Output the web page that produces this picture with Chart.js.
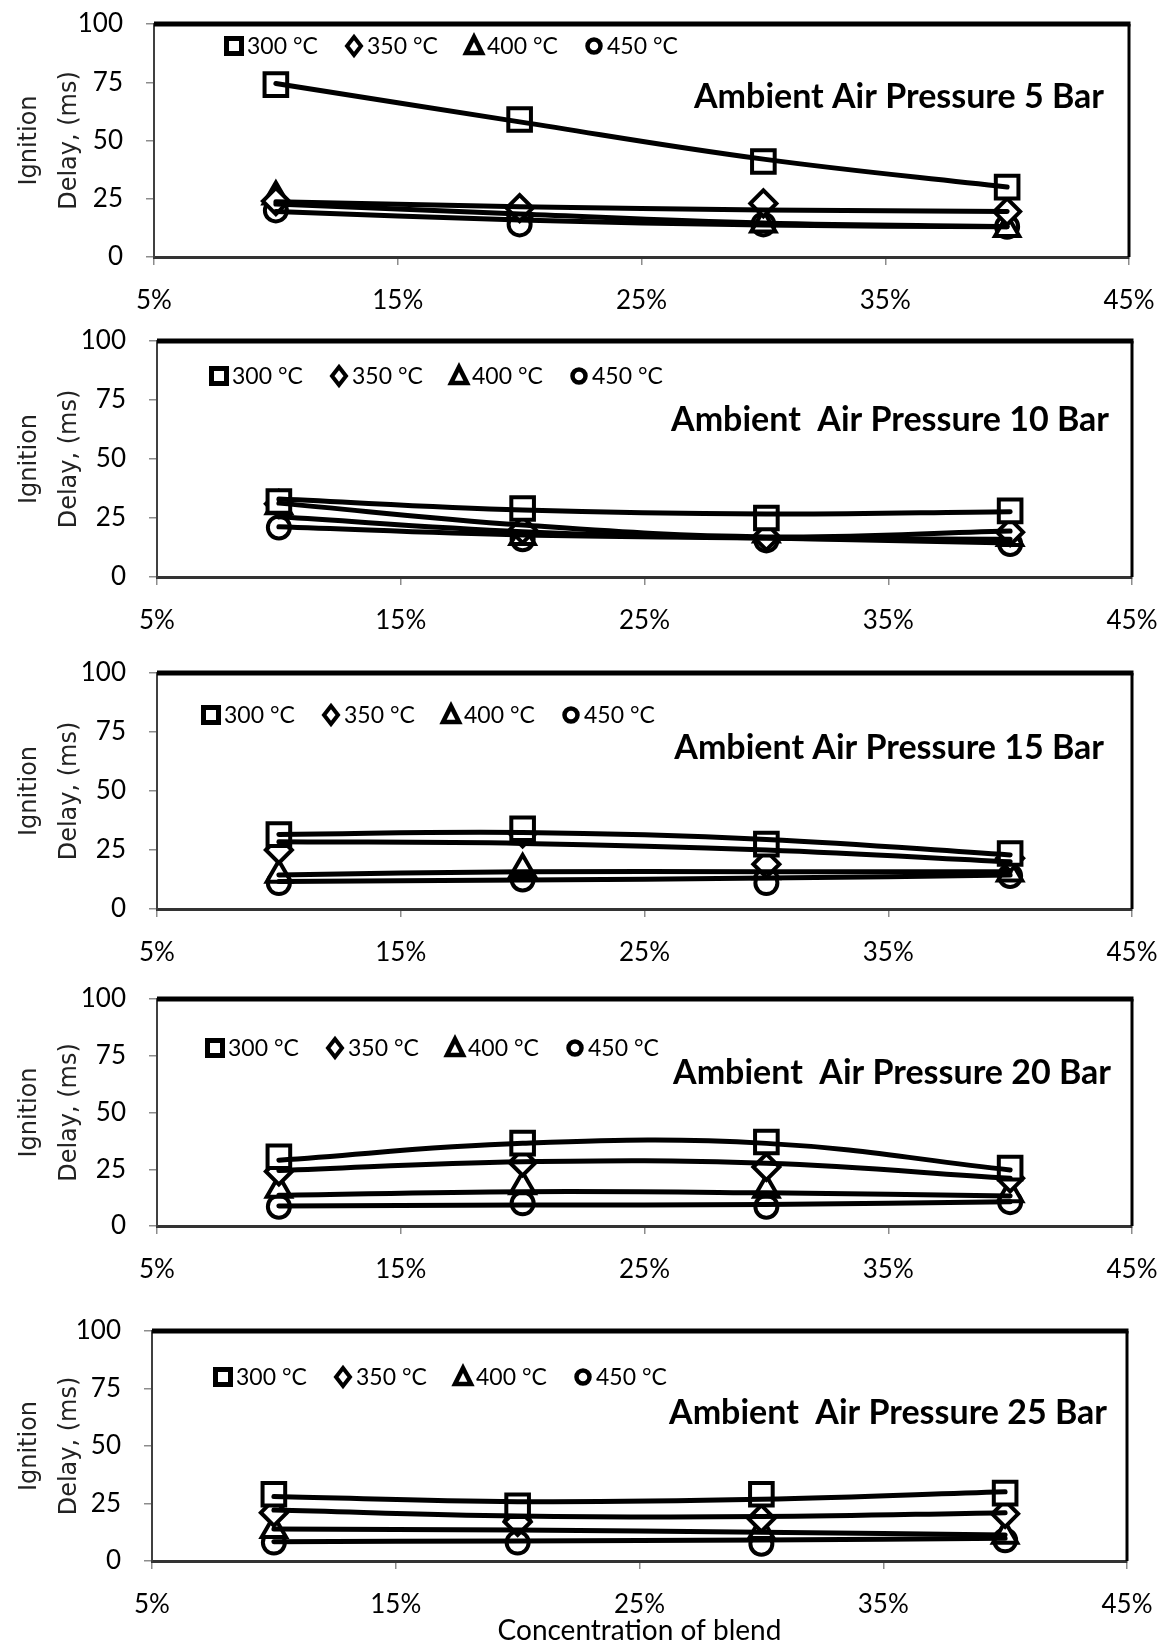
<!DOCTYPE html>
<html lang="en">
<head>
<meta charset="UTF-8">
<title>Ignition Delay vs Blend</title>
<script src="https://cdn.jsdelivr.net/npm/chart.js"></script>
<style>
  body{margin:0; background:#fff;}
  #wrap{position:relative; width:1163px; height:1648px;}
  .panel{position:absolute; left:0; width:1163px;}
</style>
</head>
<body>
<div id="wrap"></div>
<script>
// x = blend concentration (%)
const blendPct = [10, 20, 30, 40];
const xTicks = [5, 15, 25, 35, 45];
const yTicks = [0, 25, 50, 75, 100];
const tempNames = ['300 °C', '350 °C', '400 °C', '450 °C'];
const panelTitles = [
  'Ambient Air Pressure 5 Bar',
  'Ambient  Air Pressure 10 Bar',
  'Ambient Air Pressure 15 Bar',
  'Ambient  Air Pressure 20 Bar',
  'Ambient  Air Pressure 25 Bar'
];

// measured points (ms) and the trend lines drawn through them
// 5 bar
const bar5_300 = [74, 59, 41, 30];
const bar5_350 = [24, 21, 23, 19.5];
const bar5_400 = [26, 19.5, 14, 12];
const bar5_450 = [20, 14, 14, 13];
const bar5_300fit = [74.5, 58, 42, 30];
const bar5_350fit = [23.7, 21.6, 20.2, 19.5];
const bar5_400fit = [22.7, 18.5, 14.6, 13];
const bar5_450fit = [19.5, 15.9, 13.7, 13];
// 10 bar
const bar10_300 = [32, 29, 25, 28];
const bar10_350 = [31, 20, 17, 19];
const bar10_400 = [30, 17, 18, 16.5];
const bar10_450 = [21, 16, 15.5, 14];
const bar10_300fit = [33, 28.4, 26.7, 27.7];
const bar10_350fit = [31.3, 22, 17, 19.5];
const bar10_400fit = [25.5, 19.2, 16.5, 16];
const bar10_450fit = [21.3, 17.8, 16.5, 14.4];
// 15 bar
const bar15_300 = [31.5, 34, 27.5, 23.5];
const bar15_350 = [25, 32, 19, 21.5];
const bar15_400 = [14.5, 17, 16, 15];
const bar15_450 = [11, 12.5, 11, 14];
const bar15_300fit = [31.6, 32.4, 29.5, 22.9];
const bar15_350fit = [28.5, 27.8, 25, 20];
const bar15_400fit = [14.4, 15.8, 15.8, 15.8];
const bar15_450fit = [11.6, 12.3, 13.1, 14.4];
// 20 bar
const bar20_300 = [30.5, 36.5, 37, 25.5];
const bar20_350 = [24, 28, 26, 21];
const bar20_400 = [16, 17.5, 16, 14];
const bar20_450 = [8.5, 10, 8.5, 10.5];
const bar20_300fit = [29, 36.4, 36.4, 24.7];
const bar20_350fit = [24.4, 28.3, 27.6, 21];
const bar20_400fit = [13.5, 15.1, 14.6, 13.2];
const bar20_450fit = [8.8, 9.2, 9.5, 10.7];
// 25 bar
const bar25_300 = [29, 24, 29, 29.5];
const bar25_350 = [21, 17, 18.5, 20.5];
const bar25_400 = [13.5, 21, 13, 11];
const bar25_450 = [8, 8, 7.5, 9];
const bar25_300fit = [28, 25.8, 26.8, 30.1];
const bar25_350fit = [22.2, 19.6, 19.3, 21];
const bar25_400fit = [13.9, 13.5, 12.5, 11.3];
const bar25_450fit = [8.4, 8.7, 9.1, 9.9];

const points = [
  [bar5_300, bar5_350, bar5_400, bar5_450],
  [bar10_300, bar10_350, bar10_400, bar10_450],
  [bar15_300, bar15_350, bar15_400, bar15_450],
  [bar20_300, bar20_350, bar20_400, bar20_450],
  [bar25_300, bar25_350, bar25_400, bar25_450]
];
const fits = [
  [bar5_300fit, bar5_350fit, bar5_400fit, bar5_450fit],
  [bar10_300fit, bar10_350fit, bar10_400fit, bar10_450fit],
  [bar15_300fit, bar15_350fit, bar15_400fit, bar15_450fit],
  [bar20_300fit, bar20_350fit, bar20_400fit, bar20_450fit],
  [bar25_300fit, bar25_350fit, bar25_400fit, bar25_450fit]
];

// plot boxes on the page (px)
const boxes = [
  {top: 24,   bottom: 257,  left: 154, right: 1129, legX: 234, legY: 46,   titleR: 1104, titleY: 97},
  {top: 341,  bottom: 577,  left: 157, right: 1132, legX: 219, legY: 376,  titleR: 1109, titleY: 420},
  {top: 673,  bottom: 909,  left: 157, right: 1132, legX: 211, legY: 715,  titleR: 1104, titleY: 748},
  {top: 999,  bottom: 1226, left: 157, right: 1132, legX: 215, legY: 1048, titleR: 1111, titleY: 1073},
  {top: 1331, bottom: 1561, left: 152, right: 1127, legX: 223, legY: 1377, titleR: 1107, titleY: 1413}
];

const styles = ['rect', 'rectRot', 'triangle', 'circle'];
const radii = [16, 13, 14, 11];
const TOP_PAD = 24;

// small marker shapes for the legend
function legendMark(ctx, kind, x, y){
  ctx.beginPath();
  if(kind == 'rect'){ ctx.rect(x-7.5, y-7.5, 15, 15); ctx.lineWidth = 5; }
  else if(kind == 'rectRot'){ ctx.moveTo(x, y-9); ctx.lineTo(x+7, y); ctx.lineTo(x, y+9); ctx.lineTo(x-7, y); ctx.closePath(); ctx.lineWidth = 4; }
  else if(kind == 'triangle'){ ctx.moveTo(x, y-9); ctx.lineTo(x+8, y+7); ctx.lineTo(x-8, y+7); ctx.closePath(); ctx.lineWidth = 4.5; }
  else { ctx.arc(x, y, 6.5, 0, Math.PI*2); ctx.lineWidth = 4.5; }
  ctx.fill(); ctx.stroke();
}

const decor = {
  id: 'decor',
  afterDraw(chart, args, o){
    const {ctx, chartArea: a} = chart;
    const b = o.box, off = o.offset;
    ctx.save();
    ctx.strokeStyle = '#000';
    // heavy top edge + right edge of the frame
    ctx.lineWidth = 5;
    ctx.beginPath(); ctx.moveTo(a.left, a.top); ctx.lineTo(a.right + 1.5, a.top); ctx.stroke();
    ctx.lineWidth = 3;
    ctx.beginPath(); ctx.moveTo(a.right, a.top); ctx.lineTo(a.right, a.bottom); ctx.stroke();

    // legend
    ctx.font = '23px Lato';
    ctx.textBaseline = 'middle';
    ctx.textAlign = 'left';
    for(let i=0;i<tempNames.length;i++){
      const cx = b.legX + 120*i, cy = b.legY - off;
      ctx.fillStyle = '#fff';
      legendMark(ctx, styles[i], cx, cy);
      ctx.fillStyle = '#000';
      ctx.fillText(tempNames[i], cx + 13, cy + 1);
    }

    // panel title
    ctx.font = 'bold 34px Lato';
    ctx.textAlign = 'right';
    ctx.fillText(o.title, b.titleR, b.titleY - off);
    ctx.restore();
  }
};

const wrap = document.getElementById('wrap');

boxes.forEach((b, p) => {
  const last = (p == boxes.length - 1);
  const xAxisH = last ? 1648 - b.bottom : 60;
  const divTop = b.top - TOP_PAD;
  const h = b.bottom - b.top + TOP_PAD + xAxisH;

  const div = document.createElement('div');
  div.className = 'panel';
  div.style.top = divTop + 'px';
  div.style.height = h + 'px';
  const cv = document.createElement('canvas');
  div.appendChild(cv);
  wrap.appendChild(div);

  const datasets = [];
  for(let k=0;k<4;k++){
    // markers
    datasets.push({
      label: tempNames[k],
      data: blendPct.map((x, i) => ({x: x, y: points[p][k][i]})),
      showLine: false,
      pointStyle: styles[k],
      pointRadius: radii[k],
      pointBorderWidth: 4,
      pointBackgroundColor: '#fff',
      pointBorderColor: '#000',
      order: 2
    });
    // trend line
    datasets.push({
      label: tempNames[k] + ' trend',
      data: blendPct.map((x, i) => ({x: x, y: fits[p][k][i]})),
      borderColor: '#000',
      borderWidth: 5,
      borderCapStyle: 'round',
      tension: 0.4,
      pointRadius: 0,
      fill: false,
      order: 1
    });
  }

  new Chart(cv, {
    type: 'line',
    data: { datasets: datasets },
    plugins: [decor],
    options: {
      responsive: true,
      maintainAspectRatio: false,
      animation: false,
      devicePixelRatio: 1,
      layout: { padding: {top: TOP_PAD, left: 0, right: 1163 - b.right, bottom: 0} },
      plugins: {
        legend: { display: false },
        tooltip: { enabled: false },
        decor: { box: b, offset: divTop, title: panelTitles[p] }
      },
      scales: {
        x: {
          type: 'linear',
          min: 5, max: 45,
          afterBuildTicks: s => { s.ticks = xTicks.map(v => ({value: v})); },
          // fixed height; edge labels must not shrink the plot sideways
          afterFit: s => { s.height = xAxisH; s.paddingLeft = 20; s.paddingRight = 25; },
          ticks: {
            callback: v => v + '%',
            font: {family: 'Lato', size: 26},
            color: '#000',
            padding: 20,
            maxRotation: 0
          },
          grid: { drawOnChartArea: false, tickLength: 8, color: '#8c8c8c', lineWidth: 1.5 },
          border: { color: '#333', width: 3 },
          title: {
            display: last,
            text: 'Concentration of blend',
            font: {family: 'Lato', size: 28},
            color: '#000',
            padding: {top: 0, bottom: 0}
          }
        },
        y: {
          min: 0, max: 100,
          afterBuildTicks: s => { s.ticks = yTicks.map(v => ({value: v})); },
          // fixed axis width; keep the label padding from pushing the plot down
          afterFit: s => { s.width = b.left; s.paddingTop = 15; s.paddingBottom = 15; },
          ticks: {
            font: {family: 'Lato', size: 26},
            color: '#000',
            padding: 23
          },
          grid: { drawOnChartArea: false, tickLength: 8, color: '#8c8c8c', lineWidth: 1.5 },
          border: { color: '#404040', width: 2 },
          title: {
            display: true,
            text: ['Ignition', 'Delay, (ms)'],
            font: {family: 'DejaVu Sans', size: 24, lineHeight: 40/24},
            color: '#222',
            padding: {top: 10, bottom: 0}
          }
        }
      }
    }
  });
});
</script>
</body>
</html>
